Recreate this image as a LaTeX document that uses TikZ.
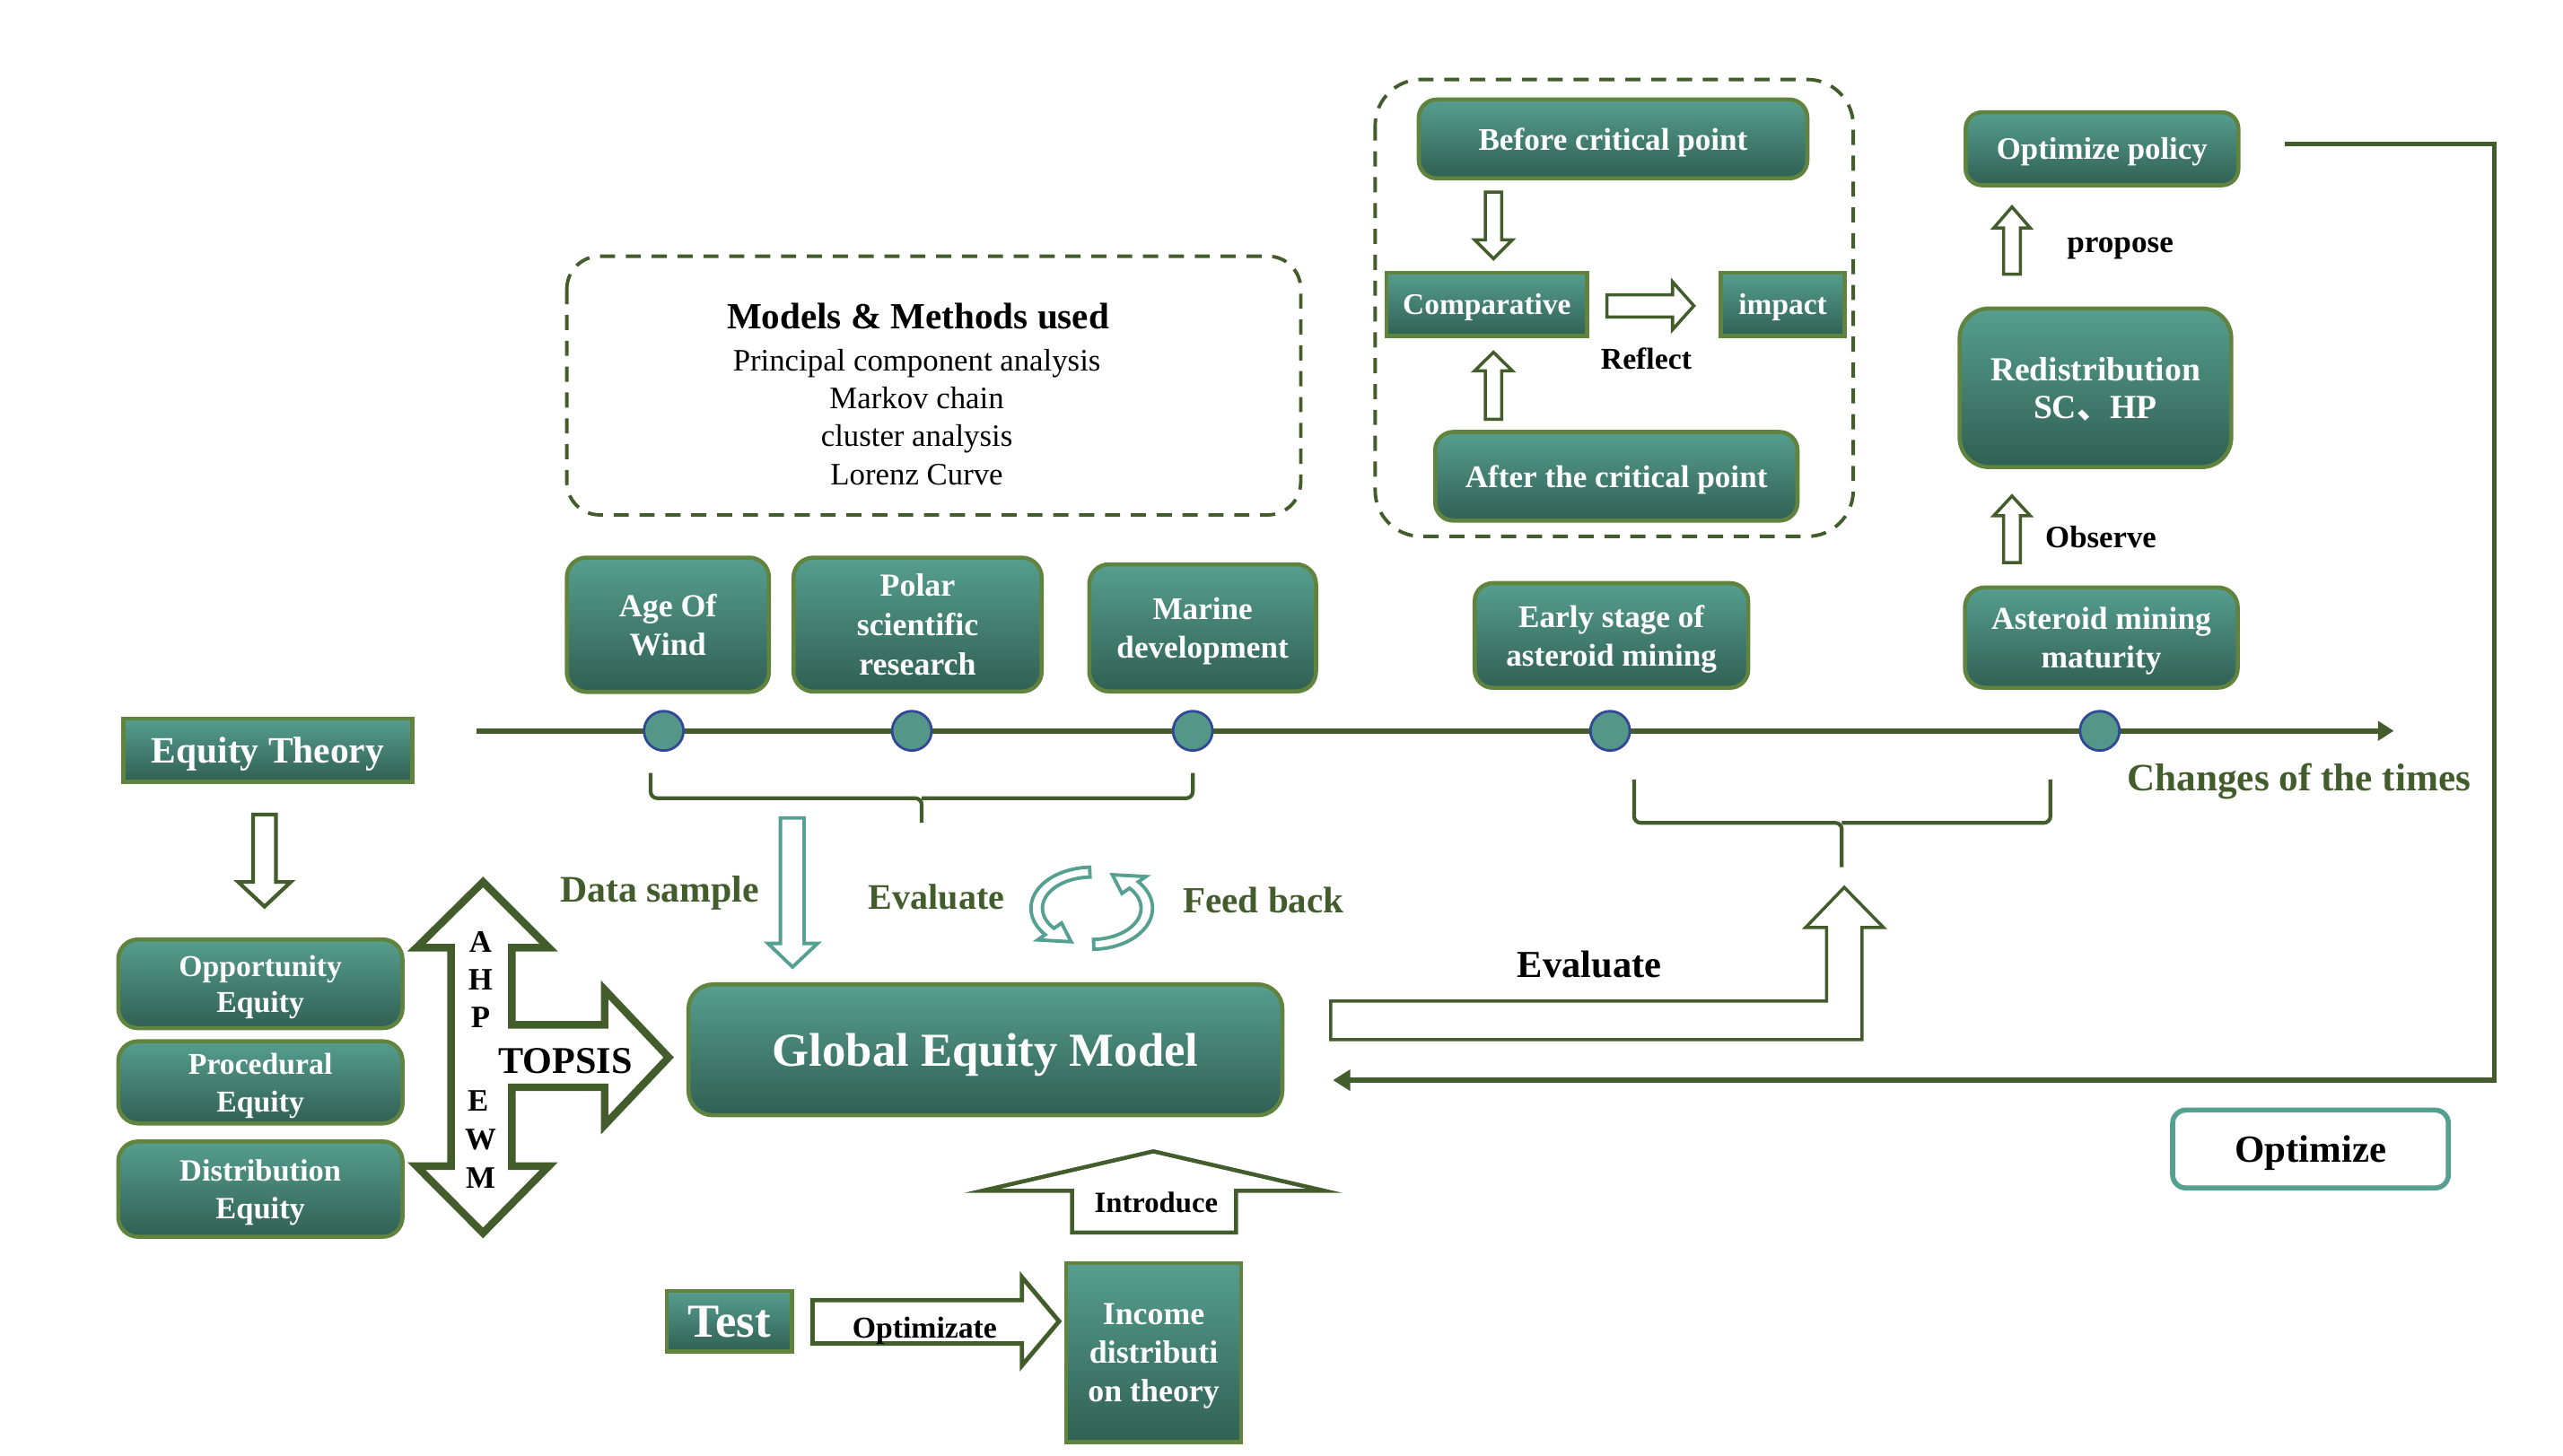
\documentclass[tikz,border=0pt]{standalone}
\usepackage{fontspec}
\setmainfont{Liberation Serif}
\newfontfamily\cjkfont{Noto Sans CJK SC}
\usetikzlibrary{arrows.meta,calc}
\definecolor{tealtop}{RGB}{86,158,142}
\definecolor{tealbot}{RGB}{48,96,84}
\definecolor{boxborder}{RGB}{96,132,62}
\definecolor{darkolive}{RGB}{67,92,44}
\definecolor{tealline}{RGB}{86,160,146}
\definecolor{dotfill}{RGB}{84,150,136}
\definecolor{dotborder}{RGB}{48,72,150}
\newdimen\DU
\DU=0.018308cm
\newcommand\myfb[2]{\bfseries\fontsize{#1pt}{#2pt}\selectfont}
\newcommand\myfr[2]{\fontsize{#1pt}{#2pt}\selectfont}
\begin{document}
\begin{tikzpicture}[x=0.018308cm, y=-0.018308cm,
 tbox/.style={draw=boxborder, line width=1.3pt, top color=tealtop, bottom color=tealbot, text=white, align=center, inner sep=0pt, text depth=0pt},
 harrow/.style={draw=darkolive, fill=white, line width=1.2pt, line join=miter},
 tarrow/.style={draw=tealline, fill=white, line width=1.1pt, line join=miter},
 olivetext/.style={text=darkolive, inner sep=0pt},
 blacktext/.style={text=black, inner sep=0pt},
 dashbox/.style={draw=darkolive, line width=1.1pt, dash pattern=on 4.8pt off 3.4pt},
 dot/.style={circle, draw=dotborder, fill=dotfill, line width=0.8pt, minimum size=24\DU, inner sep=0pt},
 conn/.style={draw=darkolive, line width=1.6pt},
]
\useasboundingbox (0,0) rectangle (1560,886);

% dashed groups
\draw[dashbox, rounded corners=20\DU] (345,156) rectangle (791.7,313.5);
\draw[dashbox, rounded corners=28\DU] (837,48.4) rectangle (1128,326.6);

\node[blacktext, font=\myfb{11.7}{14}] (mmtitle) at (558.8,192.5) {Models \& Methods used};
\node[blacktext, font=\myfr{9.9}{12}, align=center] (mmlist) at (558,254) {Principal component analysis\\Markov chain\\cluster analysis\\Lorenz Curve};

% teal boxes
\node[tbox, minimum width=176\DU, minimum height=38.5\DU, font=\myfb{11.8}{14}] (eqth) at (163,456.8) {Equity Theory};
\node[tbox, rounded corners=12\DU, minimum width=173\DU, minimum height=54\DU, font=\myfb{9.6}{11.5}] (opp) at (158.5,599) {Opportunity\\Equity};
\node[tbox, rounded corners=12\DU, minimum width=173\DU, minimum height=50\DU, font=\myfb{9.6}{12}] (proc) at (158.5,659) {Procedural\\Equity};
\node[tbox, rounded corners=12\DU, minimum width=173\DU, minimum height=58\DU, font=\myfb{9.8}{12}] (dist) at (158.5,724) {Distribution\\Equity};
\node[tbox, rounded corners=12\DU, minimum width=123\DU, minimum height=81.8\DU, font=\myfb{10.2}{12.3}] (aow) at (406.5,380.4) {Age Of\\Wind};
\node[tbox, rounded corners=12\DU, minimum width=151\DU, minimum height=81.5\DU, font=\myfb{10.2}{12.5}] (polar) at (558.5,380.3) {Polar\\scientific\\research};
\node[tbox, rounded corners=12\DU, minimum width=138\DU, minimum height=77.4\DU, font=\myfb{10}{12.3}] (marine) at (732,382.3) {Marine\\development};
\node[tbox, rounded corners=11\DU, minimum width=166.5\DU, minimum height=63.7\DU, font=\myfb{10}{12.3}] (early) at (980.8,386.9) {Early stage of\\asteroid mining};
\node[tbox, rounded corners=11\DU, minimum width=236.5\DU, minimum height=48\DU, font=\myfb{10}{12}] (before) at (981.8,84.6) {Before critical point};
\node[tbox, minimum width=122\DU, minimum height=38.5\DU, font=\myfb{9.5}{12}] (comp) at (905,185.3) {Comparative};
\node[tbox, minimum width=75.2\DU, minimum height=38.5\DU, font=\myfb{9.5}{12}] (impact) at (1085.1,185.3) {impact};
\node[tbox, rounded corners=11\DU, minimum width=220.5\DU, minimum height=54\DU, font=\myfb{10}{12}] (after) at (983.8,290) {After the critical point};
\node[tbox, rounded corners=10\DU, minimum width=166\DU, minimum height=44.4\DU, font=\myfb{9.9}{12}] (optpol) at (1279.4,90.6) {Optimize policy};
\node[tbox, rounded corners=18\DU, minimum width=165.3\DU, minimum height=96.6\DU, font=\myfb{10.7}{11.8}] (redis) at (1275.4,236.1) {Redistribution\\SC{\cjkfont 、}HP};
\node[tbox, rounded corners=12\DU, minimum width=166\DU, minimum height=61\DU, font=\myfb{10.1}{12}] (astmat) at (1279,388.2) {Asteroid mining\\maturity};
\node[tbox, rounded corners=15\DU, minimum width=361.5\DU, minimum height=79.7\DU, font=\myfb{15}{18}] (gem) at (599.8,639.2) {Global Equity Model};
\node[tbox, minimum width=76.2\DU, minimum height=37\DU, font=\myfb{15}{18}] (test) at (443.9,804.5) {Test};
\node[tbox, minimum width=106.4\DU, minimum height=109\DU, font=\myfb{10.2}{12.2}] (income) at (702.2,823.5) {Income\\distributi\\on theory};
\node[draw=tealline, fill=white, line width=1.6pt, rounded corners=8\DU, minimum width=167.8\DU, minimum height=47.4\DU, inner sep=0pt, text depth=0pt, font=\myfb{12.2}{14}] (optim) at (1406.3,699.6) {Optimize};

% hollow block arrows
\draw[harrow] (154,496) -- (168,496) -- (168,537) -- (177,537) -- (161,552) -- (145,537) -- (154,537) -- cycle;
\draw[harrow, line width=1pt] (904,117) -- (914,117) -- (914,146) -- (920.5,146) -- (909,157.5) -- (897.5,146) -- (904,146) -- cycle;
\draw[harrow, line width=1pt] (904,255.3) -- (914,255.3) -- (914,225.8) -- (920.5,225.8) -- (909,214.5) -- (897.5,225.8) -- (904,225.8) -- cycle;
\draw[harrow, line width=1pt] (978,179.5) -- (1018,179.5) -- (1018,171.6) -- (1031,186.2) -- (1018,200.7) -- (1018,193) -- (978,193) -- cycle;
\draw[harrow, line width=1pt] (1219.5,167) -- (1229.7,167) -- (1229.7,138.8) -- (1235.7,138.8) -- (1224.6,126) -- (1213.5,138.8) -- (1219.5,138.8) -- cycle;
\draw[harrow, line width=1pt] (1219.5,342.6) -- (1229.7,342.6) -- (1229.7,314) -- (1235.7,314) -- (1224.6,302) -- (1213.5,314) -- (1219.5,314) -- cycle;
\draw[tarrow] (475,498) -- (489.4,498) -- (489.4,574.4) -- (497.6,574.4) -- (482.4,588.8) -- (467.4,574.4) -- (475,574.4) -- cycle;
\draw[harrow, line width=2.4pt] (294,537) -- (334,577) -- (311.5,577) -- (311.5,624) -- (368,624) -- (368,602.6) -- (407,643.8) -- (368,685) -- (368,662) -- (311.5,662) -- (311.5,710) -- (334,710) -- (294,750.7) -- (253.5,710) -- (274.5,710) -- (274.5,577) -- (253.5,577) -- cycle;
\draw[harrow, line width=1pt] (810,609.5) -- (1111.8,609.5) -- (1111.8,564.7) -- (1099,564.7) -- (1122.5,540.3) -- (1146.4,564.7) -- (1133.3,564.7) -- (1133.3,633) -- (810,633) -- cycle;
\draw[harrow, line width=1.3pt] (702,701) -- (806,725) -- (752.3,725) -- (752.3,750.4) -- (652.5,750.4) -- (652.5,725) -- (598,725) -- cycle;
\draw[harrow, line width=1.4pt] (494.5,791.6) -- (622,791.6) -- (622,777.6) -- (644.6,804.5) -- (622,831.4) -- (622,818) -- (494.5,818) -- cycle;

% circular arrows
\filldraw[tarrow] plot[domain=268:140, samples=40] ({664.5+37*cos(\x)},{553+25*sin(\x)}) -- ({664.5+43*cos(140)},{553+30*sin(140)}) -- ({664.5+33.5*cos(112)},{553+22*sin(112)}) -- ({664.5+24*cos(140)},{553+14*sin(140)}) -- plot[domain=140:268, samples=40] ({664.5+30*cos(\x)},{553+19*sin(\x)}) -- cycle;
\filldraw[tarrow] plot[domain=88:-40, samples=40] ({664.5+37*cos(\x)},{553+25*sin(\x)}) -- ({664.5+43*cos(-40)},{553+30*sin(-40)}) -- ({664.5+33.5*cos(-68)},{553+22*sin(-68)}) -- ({664.5+24*cos(-40)},{553+14*sin(-40)}) -- plot[domain=-40:88, samples=40] ({664.5+30*cos(\x)},{553+19*sin(\x)}) -- cycle;

% timeline
\coordinate (tlA) at (290,445);
\coordinate (tlB) at (1457,445);
\draw[conn, -{Triangle[length=5pt,width=6pt]}] (tlA) -- (tlB);
\node[dot] (t1) at (404,445) {};
\node[dot] (t2) at (555,445) {};
\node[dot] (t3) at (726,445) {};
\node[dot] (t4) at (980,445) {};
\node[dot] (t5) at (1278,445) {};

% braces
\draw[darkolive, line width=1.2pt, rounded corners=4\DU] (396,470.6) -- (396,486) -- (561,486) -- (561,501);
\draw[darkolive, line width=1.2pt, rounded corners=4\DU] (726,470.6) -- (726,486) -- (561,486);
\draw[darkolive, line width=1.2pt, rounded corners=4\DU] (994.6,474.6) -- (994.6,501) -- (1121,501) -- (1121,528);
\draw[darkolive, line width=1.2pt, rounded corners=4\DU] (1248,474.6) -- (1248,501) -- (1121,501);

% feedback connector
\coordinate (fbA) at ($(optpol.east)+(27,-2.9)$);
\coordinate (fbD) at ($(gem.east)+(29.5,18.5)$);
\draw[conn, -{Triangle[length=5.5pt,width=6.5pt]}] (fbA) -- ++(127.5,0) |- (fbD);

% labels
\node[olivetext, font=\myfb{11.9}{14}] (datasample) at (401.5,543.5) {Data sample};
\node[olivetext, font=\myfb{11.4}{14}] (evalL) at (570,546) {Evaluate};
\node[olivetext, font=\myfb{11.7}{14}] (feedback) at (769,548) {Feed back};
\node[blacktext, font=\myfb{12.1}{14}] (evalR) at (967.5,587) {Evaluate};
\node[olivetext, font=\myfb{12.3}{14}] (changes) at (1399.3,476) {Changes of the times};
\node[blacktext, font=\myfb{12}{14}] (topsis) at (344.2,646) {TOPSIS};
\node[blacktext, font=\myfb{9.6}{12}] (reflect) at (1002,218.6) {Reflect};
\node[blacktext, font=\myfb{10}{12}] (propose) at (1290.5,151.5) {propose};
\node[blacktext, font=\myfb{9.9}{12}] (observe) at (1278.7,327) {Observe};
\node[blacktext, font=\myfb{9.3}{12}] (introduce) at (703.7,732) {Introduce};
\node[blacktext, font=\myfb{9.6}{12}] (optimizate) at (562.8,810) {Optimizate};
\node[blacktext, font=\myfb{9.9}{12}] (lA) at (292.5,573.5) {A};
\node[blacktext, font=\myfb{9.9}{12}] (lH) at (292.5,596.5) {H};
\node[blacktext, font=\myfb{9.9}{12}] (lP) at (292.5,619.5) {P};
\node[blacktext, font=\myfb{9.9}{12}] (lE) at (291,670) {E};
\node[blacktext, font=\myfb{9.9}{12}] (lW) at (292.5,694) {W};
\node[blacktext, font=\myfb{9.9}{12}] (lM) at (292.5,717) {M};
\end{tikzpicture}
\end{document}
